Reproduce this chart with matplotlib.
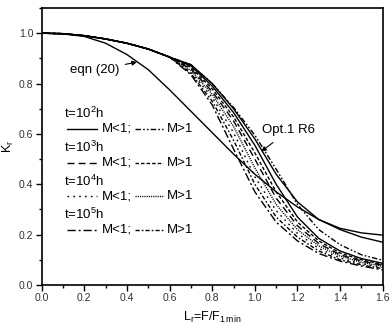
import matplotlib
matplotlib.use("Agg")
import matplotlib.pyplot as plt
from matplotlib.ticker import MultipleLocator

plt.rcParams['font.family'] = ['Liberation Sans', 'DejaVu Sans']
plt.rcParams['mathtext.fontset'] = 'custom'
plt.rcParams['mathtext.rm'] = 'Liberation Sans'

# ---- data ----
x_common = [0.0, 0.1, 0.2, 0.3, 0.4, 0.5, 0.6]
y_common = [1.0, 0.998, 0.99, 0.977, 0.96, 0.937, 0.905]
x_tail = [0.7, 0.8, 0.9, 1.0, 1.1, 1.2, 1.3, 1.4, 1.5, 1.6]

t5_Mlt1 = [0.835, 0.715, 0.54, 0.37, 0.25, 0.175, 0.125, 0.095, 0.075, 0.06]
t5_Mgt1 = [0.84, 0.73, 0.575, 0.40, 0.27, 0.19, 0.135, 0.10, 0.08, 0.065]
t4_Mlt1 = [0.845, 0.745, 0.605, 0.43, 0.295, 0.205, 0.145, 0.107, 0.085, 0.07]
t4_Mgt1 = [0.852, 0.757, 0.63, 0.465, 0.32, 0.22, 0.155, 0.115, 0.09, 0.074]
t3_Mlt1 = [0.858, 0.768, 0.652, 0.50, 0.345, 0.235, 0.165, 0.12, 0.095, 0.078]
t3_Mgt1 = [0.864, 0.779, 0.668, 0.525, 0.37, 0.25, 0.175, 0.127, 0.10, 0.082]
t2_Mlt1 = [0.87, 0.79, 0.685, 0.555, 0.40, 0.27, 0.185, 0.135, 0.105, 0.086]
t2_Mgt1 = [0.875, 0.80, 0.705, 0.595, 0.46, 0.32, 0.22, 0.16, 0.12, 0.098]
opt1_R6 = [0.875, 0.80, 0.70, 0.58, 0.44, 0.33, 0.26, 0.22, 0.19, 0.17]

x_eqn = [0.0, 0.1, 0.2, 0.3, 0.4, 0.5, 0.6, 0.7, 0.8, 0.9, 1.0, 1.1, 1.2, 1.3, 1.4, 1.5, 1.6]
y_eqn = [1.0, 0.997, 0.987, 0.96, 0.915, 0.855, 0.775, 0.69, 0.605, 0.52, 0.44, 0.37,
         0.31, 0.26, 0.225, 0.207, 0.198]

x_ticks = [0.0, 0.2, 0.4, 0.6, 0.8, 1.0, 1.2, 1.4, 1.6]
y_ticks = [0.0, 0.2, 0.4, 0.6, 0.8, 1.0]

# ---- styles ----
ls_t2_lt = '-'
ls_t2_gt = (0, (4, 1.5, 1.2, 1.5, 1.2, 1.5))
ls_t3_lt = (0, (5, 3))
ls_t3_gt = (0, (2.5, 1.5))
ls_t4_lt = (0, (1.2, 3))
ls_t4_gt = (0, (0.8, 0.8))
ls_t5_lt = (0, (6, 2, 1.5, 2))
ls_t5_gt = (0, (3, 1.5, 1.2, 1.5))

fig = plt.figure(figsize=(3.92, 3.26), dpi=100)
ax = fig.add_axes([0.1064, 0.1258, 0.8699, 0.8497])

lw = 1.0
xs = x_common + x_tail
series = [
    (t5_Mlt1, ls_t5_lt), (t5_Mgt1, ls_t5_gt),
    (t4_Mlt1, ls_t4_lt), (t4_Mgt1, ls_t4_gt),
    (t3_Mlt1, ls_t3_lt), (t3_Mgt1, ls_t3_gt),
    (t2_Mlt1, ls_t2_lt), (t2_Mgt1, ls_t2_gt),
]
for ys, ls in series:
    ax.plot(xs, y_common + ys, color='black', lw=lw, linestyle=ls)
ax.plot(xs, y_common + opt1_R6, color='black', lw=lw, linestyle='-')
ax.plot(x_eqn, y_eqn, color='black', lw=lw, linestyle='-')

ax.set_xlim(0, 1.6)
ax.set_ylim(0, 1.1)
ax.set_xticks(x_ticks)
ax.set_yticks(y_ticks)
ax.set_xticklabels([f"{v:.1f}" for v in x_ticks])
ax.set_yticklabels([f"{v:.1f}" for v in y_ticks])
ax.xaxis.set_minor_locator(MultipleLocator(0.1))
ax.yaxis.set_minor_locator(MultipleLocator(0.1))
ax.tick_params(which='major', direction='out', length=4, width=1, labelsize=7.5,
               labelcolor='#333333', pad=2)
ax.tick_params(which='minor', direction='out', length=2.5, width=1)
for s in ax.spines.values():
    s.set_linewidth(1.2)

ax.set_xlabel(r'L$_\mathregular{r}$=F/F$_\mathregular{1\,min}$', fontsize=9, labelpad=5)
ax.set_ylabel(r'K$_\mathregular{r}$', fontsize=9, labelpad=2)

# legend drawn manually
fs = 9.5
rows = [
    (r't=10$^\mathregular{2}$h', 0.68, 0.62, ls_t2_lt, ls_t2_gt),
    (r't=10$^\mathregular{3}$h', 0.548, 0.486, ls_t3_lt, ls_t3_gt),
    (r't=10$^\mathregular{4}$h', 0.413, 0.353, ls_t4_lt, ls_t4_gt),
    (r't=10$^\mathregular{5}$h', 0.281, 0.22, ls_t5_lt, ls_t5_gt),
]
for title, ty, ly, ls1, ls2 in rows:
    ax.text(0.105, ty, title, fontsize=fs, va='center', ha='left')
    ax.plot([0.12, 0.26], [ly, ly], color='black', lw=lw, linestyle=ls1)
    ax.text(0.283, ly, 'M<1;', fontsize=fs, va='center', ha='left')
    ax.plot([0.44, 0.57], [ly, ly], color='black', lw=lw, linestyle=ls2)
    ax.text(0.585, ly, 'M>1', fontsize=fs, va='center', ha='left')

ax.annotate('eqn (20)', xy=(0.447, 0.885), xytext=(0.25, 0.853), fontsize=fs,
            ha='center', va='center',
            arrowprops=dict(arrowstyle='-|>', color='black', lw=0.8, mutation_scale=7,
                            shrinkA=2, shrinkB=0))
ax.annotate('Opt.1 R6', xy=(1.03, 0.53), xytext=(1.16, 0.614), fontsize=fs,
            ha='center', va='center',
            arrowprops=dict(arrowstyle='-|>', color='black', lw=0.8, mutation_scale=7,
                            shrinkA=4, shrinkB=0))

fig.savefig('out.png', dpi=100)
